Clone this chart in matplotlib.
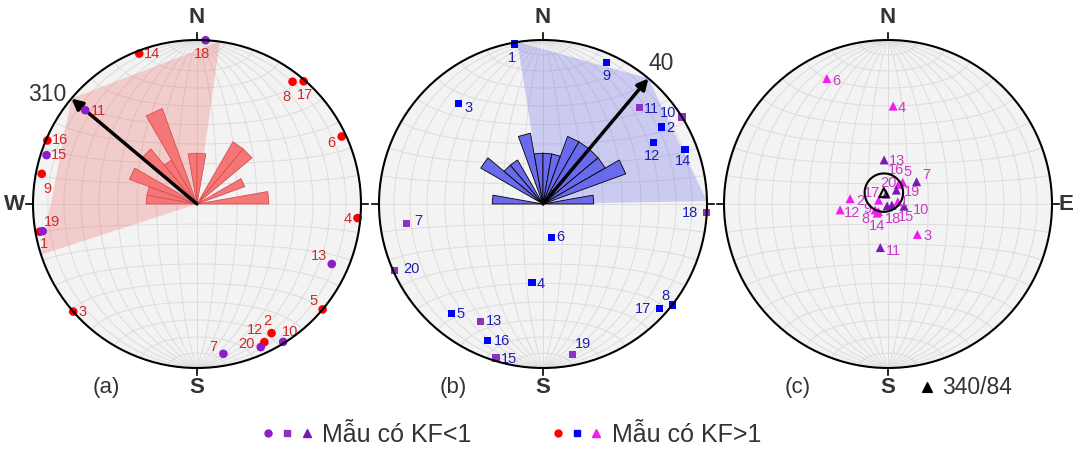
import numpy as np
import matplotlib.pyplot as plt
from matplotlib.patches import Polygon, Circle
from matplotlib.lines import Line2D
from matplotlib.legend_handler import HandlerTuple

plt.rcParams['font.family'] = ['Liberation Sans', 'DejaVu Sans']

# sample numbers and the ones with KF < 1
samples = list(range(1, 21))
kf_below_one = [7, 10, 11, 13, 15, 18, 19, 20]

# (a) lineations: trend / plunge for samples 1..20
a_trend = [260, 150, 229, 95, 130, 65, 170, 38, 281, 148, 310, 154, 114, 339, 288, 293, 41, 3, 260, 156]
a_plunge = [3, 10, 0, 2, 0, 3, 8, 6, 4, 1, 12, 7, 11, 2, 4, 1, 1, 0, 5, 5]

# (b) second set of axes
b_trend = [350, 57, 320, 188, 220, 166, 262, 128, 24, 58, 45, 61, 208, 69, 197, 202, 132, 93, 169, 246]
b_plunge = [1, 15, 21, 50, 14, 73, 17, 0, 6, 0, 18, 24, 20, 8, 2, 11, 5, 0, 7, 1]

# (c) poles, mean 340/84
c_trend = [77, 278, 136, 3, 34, 334, 52, 232, 245, 98, 190, 263, 355, 230, 105, 28, 292, 206, 31, 350]
c_plunge = [85, 71, 69, 40, 77, 16, 72, 84, 83, 82, 68, 66, 68, 83, 88, 79, 85, 89, 82, 85]
c_mean = (340, 84)
c_a95 = 9.5

# rose diagrams, 10 degree bins from 270 through N to 80
rose_bins = [270, 280, 290, 300, 310, 320, 330, 340, 350, 0, 10, 20, 30, 40, 50, 60, 70, 80]
rose_a = [1, 1, 2, 0, 2, 1, 4, 0, 1, 1, 0, 0, 2, 2, 0, 1, 0, 2]
rose_b = [1, 0, 0, 2, 1, 1, 0, 2, 1, 1, 1, 2, 2, 2, 2, 3, 0, 1]

# mean direction and spread of the shaded sectors
a_mean, a_spread = 310, 58
b_mean, b_spread = 40, 49

# label offsets in pixels (x, y) for samples 1..20
off_a = [(4, -12), (-4, 12), (9, 0), (-10, -1), (-9, 8), (-10, -6), (-10, 7), (-6, -15), (6, -15), (7, 10),
         (13, -1), (-9, 12), (-13, 8), (13, 0), (12, 0), (13, 0), (1, -14), (-4, -14), (9, 9), (-14, 3)]
off_b = [(-3, -14), (9, -1), (10, -5), (9, -1), (9, -1), (9, 0), (12, 2), (-7, 9), (0, -14), (-14, 4),
         (12, -1), (-1, -13), (13, 0), (-2, -12), (13, -1), (14, 0), (-16, 0), (-17, 0), (11, 11), (17, 1)]
off_c = [(6, 0), (10, -2), (10, -2), (9, -2), (5, 10), (10, -2), (10, 7), (-13, -8), (-8, 1), (17, -4),
         (13, -3), (12, -3), (13, -1), (0, -13), (14, -12), (-2, 14), (-7, 7), (6, -13), (16, -2), (2, 11)]

W, H = 1082, 449
R = 164
CY = 204


def project(trend, plunge):
    t = np.radians(np.asarray(trend, float))
    p = np.radians(np.asarray(plunge, float))
    x, y, z = np.cos(p) * np.sin(t), np.cos(p) * np.cos(t), np.sin(p)
    k = 1 / np.sqrt(1 + z)
    return x * k, y * k


def project_vec(v):
    x, y, z = v
    k = 1 / np.sqrt(1 + z)
    return x * k, y * k


def draw_net(ax):
    ax.add_patch(Circle((0, 0), 1, fc='#f3f3f3', ec='none', zorder=0))
    t = np.linspace(0, np.pi, 181)
    for d in range(10, 180, 10):
        dr = np.radians(d)
        v = (np.sin(t) * np.cos(dr), np.cos(t), np.sin(t) * np.sin(dr))
        ax.plot(*project_vec(v), color='#dcdcdc', lw=0.7, zorder=1)
    for a in range(10, 180, 10):
        ar = np.radians(a)
        v = (np.sin(ar) * np.cos(t), np.full_like(t, np.cos(ar)), np.sin(ar) * np.sin(t))
        ax.plot(*project_vec(v), color='#dcdcdc', lw=0.7, zorder=1)
    ax.add_patch(Circle((0, 0), 1, fc='none', ec='black', lw=1.5, zorder=8))
    for ang in (0, 90, 180, 270):
        s, c = np.sin(np.radians(ang)), np.cos(np.radians(ang))
        ax.plot([s, 1.04 * s], [c, 1.04 * c], color='black', lw=1.2, zorder=8)


def draw_rose(ax, counts, face, edge):
    for start, n in zip(rose_bins, counts):
        if n == 0:
            continue
        L = 0.31 * np.sqrt(n)
        a0, a1 = np.radians(start), np.radians(start + 10)
        verts = [(0, 0), (L * np.sin(a0), L * np.cos(a0)), (L * np.sin(a1), L * np.cos(a1))]
        ax.add_patch(Polygon(verts, closed=True, fc=face, ec=edge, lw=0.6, zorder=4))


def draw_sector(ax, mean, spread, color):
    angs = [mean - spread, mean, mean + spread]
    xs, ys = project(angs, [0, 0, 0])
    verts = [(0, 0)] + list(zip(xs, ys))
    ax.add_patch(Polygon(verts, closed=True, fc=color, ec='none', alpha=0.3, zorder=2))


def draw_points(ax, trend, plunge, marker, size, c_low, c_high, offsets, label_color):
    xs, ys = project(trend, plunge)
    cols = [c_low if s in kf_below_one else c_high for s in samples]
    for s, x, y, col, off in zip(samples, xs, ys, cols, offsets):
        ax.scatter(x, y, s=size ** 2, marker=marker, color=col, edgecolors='none', zorder=6)
        ax.annotate(str(s), (x, y), xytext=off, textcoords='offset pixels', ha='center', va='center',
                    fontsize=10.5, color=label_color, zorder=7)


fig = plt.figure(figsize=(W / 100, H / 100), dpi=100)

axes = []
for cx in (197, 543, 888):
    ax = fig.add_axes([(cx - 1.25 * R) / W, (H - CY - 1.25 * R) / H, 2.5 * R / W, 2.5 * R / H])
    ax.set_xlim(-1.25, 1.25)
    ax.set_ylim(-1.25, 1.25)
    ax.axis('off')
    ax.patch.set_visible(False)
    draw_net(ax)
    ax.text(0, 1.14, 'N', ha='center', va='center', fontsize=16, fontweight='bold', color='#333333')
    ax.text(0, -1.116, 'S', ha='center', va='center', fontsize=16, fontweight='bold', color='#333333')
    axes.append(ax)

ax_a, ax_b, ax_c = axes
ax_a.text(-1.11, 0, 'W', ha='center', va='center', fontsize=16, fontweight='bold', color='#333333')
ax_c.text(1.085, 0, 'E', ha='center', va='center', fontsize=16, fontweight='bold', color='#333333')
for ax, tag in zip(axes, ['(a)', '(b)', '(c)']):
    ax.text(-0.55, -1.116, tag, ha='center', va='center', fontsize=16, color='#333333')

# (a)
draw_sector(ax_a, a_mean, a_spread, '#f07070')
draw_rose(ax_a, rose_a, '#f47676', '#d85050')
tip = project(a_mean, 0)
ax_a.annotate('', xy=tip, xytext=(0, 0), zorder=5,
              arrowprops=dict(arrowstyle='-|>', lw=2.5, color='black', mutation_scale=16, shrinkA=0, shrinkB=0))
ax_a.annotate(str(a_mean), tip, xytext=(-5, 4), textcoords='offset pixels', ha='right', va='center',
              fontsize=16.5, color='#333333')
draw_points(ax_a, a_trend, a_plunge, 'o', 6.2, '#8c1ec8', '#ff0000', off_a, '#d02a2a')

# (b)
draw_sector(ax_b, b_mean, b_spread, '#7070f0')
draw_rose(ax_b, rose_b, '#6a6aec', 'black')
tip = project(b_mean, 0)
ax_b.annotate('', xy=tip, xytext=(0, 0), zorder=5,
              arrowprops=dict(arrowstyle='-|>', lw=2.5, color='black', mutation_scale=16, shrinkA=0, shrinkB=0))
ax_b.annotate(str(b_mean), tip, xytext=(0, 15), textcoords='offset pixels', ha='left', va='center',
              fontsize=16.5, color='#333333')
draw_points(ax_b, b_trend, b_plunge, 's', 5.2, '#9030c0', '#0000ff', off_b, '#1e1eb4')

# (c)
draw_points(ax_c, c_trend, c_plunge, '^', 6.5, '#7a1ab4', '#f01cf0', off_c, '#c83cc8')
mx, my = project(*c_mean)
ax_c.scatter(mx, my, s=6.5 ** 2, marker='^', facecolor='none', edgecolors='black', lw=1.5, zorder=9)
# confidence cone around the mean pole
mt, mp = np.radians(c_mean[0]), np.radians(c_mean[1])
axis_v = np.array([np.cos(mp) * np.sin(mt), np.cos(mp) * np.cos(mt), np.sin(mp)])
u = np.cross(axis_v, [0, 0, 1.0])
u /= np.linalg.norm(u)
w = np.cross(axis_v, u)
phi = np.linspace(0, 2 * np.pi, 200)
a95 = np.radians(c_a95)
cone = (np.cos(a95) * axis_v[:, None] + np.sin(a95) * (np.outer(u, np.cos(phi)) + np.outer(w, np.sin(phi))))
ax_c.plot(*project_vec(cone), color='black', lw=1.5, zorder=9)
ax_c.scatter(0.238, -1.116, s=7 ** 2, marker='^', color='black', clip_on=False)
ax_c.text(0.33, -1.116, '%d/%d' % c_mean, ha='left', va='center', fontsize=16.5, color='#333333')

# legend
h_low = (Line2D([], [], ls='none', marker='o', ms=5, color='#8c1ec8'),
         Line2D([], [], ls='none', marker='s', ms=4.5, color='#9030c0'),
         Line2D([], [], ls='none', marker='^', ms=5.5, color='#7a1ab4'))
h_high = (Line2D([], [], ls='none', marker='o', ms=5, color='#ff0000'),
          Line2D([], [], ls='none', marker='s', ms=4.5, color='#0000ff'),
          Line2D([], [], ls='none', marker='^', ms=5.5, color='#f01cf0'))
fig.legend([h_low, h_high], ['Mẫu có KF<1', 'Mẫu có KF>1'],
           handler_map={tuple: HandlerTuple(ndivide=None, pad=0.3)},
           ncol=2, loc='center', bbox_to_anchor=(0.473, 0.032), frameon=False, fontsize=18,
           handlelength=2.0, handletextpad=0.4, columnspacing=3.2, labelcolor='#333333')

fig.savefig('out.png', dpi=100)
